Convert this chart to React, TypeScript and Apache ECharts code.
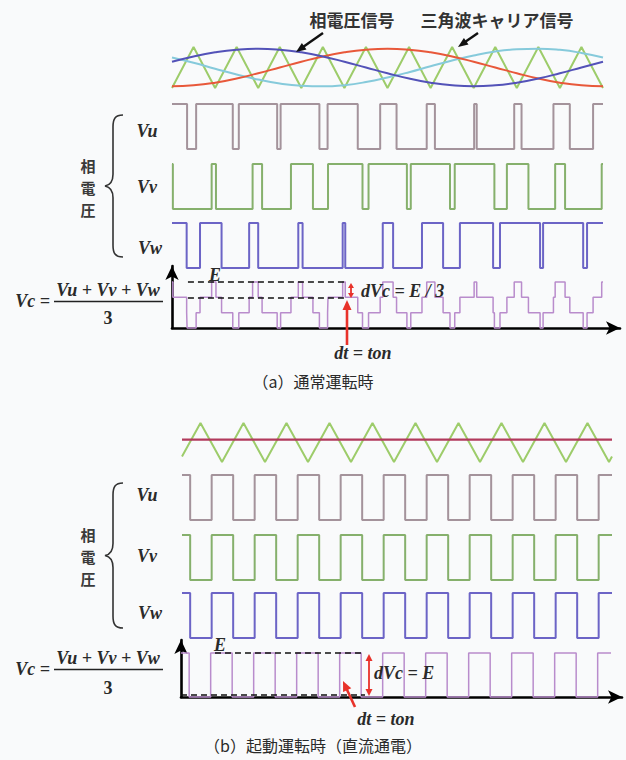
import React, { useEffect, useRef } from "react";
import * as echarts from "echarts";

// ---------- data (time in carrier periods, 0..10) ----------
const sineTimes = [0, 0.5, 1, 1.5, 2, 2.5, 3, 3.5, 4, 4.5, 5, 5.5, 6, 6.5, 7, 7.5, 8, 8.5, 9, 9.5, 10];
const sineBlue = [0.28, 0.54, 0.74, 0.87, 0.92, 0.87, 0.74, 0.54, 0.28, 0, -0.28, -0.54, -0.74, -0.87, -0.92, -0.87, -0.74, -0.54, -0.28, 0, 0.28];
const sineRed = [-0.92, -0.87, -0.74, -0.54, -0.28, 0, 0.28, 0.54, 0.74, 0.87, 0.92, 0.87, 0.74, 0.54, 0.28, 0, -0.28, -0.54, -0.74, -0.87, -0.92];
const sineCyan = [0.49, 0.23, -0.06, -0.34, -0.59, -0.78, -0.89, -0.92, -0.86, -0.71, -0.49, -0.23, 0.06, 0.34, 0.59, 0.78, 0.89, 0.92, 0.86, 0.71, 0.49];
const carrierTimesA = [0, 0.5, 1, 1.5, 2, 2.5, 3, 3.5, 4, 4.5, 5, 5.5, 6, 6.5, 7, 7.5, 8, 8.5, 9, 9.5, 10];
const carrierValsA = [-1, 1, -1, 1, -1, 1, -1, 1, -1, 1, -1, 1, -1, 1, -1, 1, -1, 1, -1, 1, -1];

// switching instants of the phase voltages (a), each starts "high"
const vuSwitchA = [0.35, 0.56, 1.41, 1.55, 2.44, 2.52, 3.42, 3.61, 4.31, 4.83, 5.21, 5.91, 6.1, 7.01, 7.07, 7.94, 8.11, 8.85, 9.23, 9.77];
const vvSwitchA = [0.02, 0.92, 1.02, 1.87, 2.09, 2.76, 3.27, 3.62, 4.42, 4.56, 5.45, 5.54, 6.45, 6.56, 7.48, 7.77, 8.27, 8.89, 9.12, 9.97];
const vwSwitchA = [0.34, 0.65, 1.15, 1.79, 2.0, 2.93, 3.03, 3.96, 4.02, 4.89, 5.13, 5.8, 6.29, 6.68, 7.45, 7.61, 8.54, 8.61, 9.54, 9.63];

// (b) DC energising
const carrierTimesB = [0, 0.43, 0.93, 1.43, 1.93, 2.43, 2.93, 3.43, 3.93, 4.43, 4.93, 5.43, 5.93, 6.43, 6.93, 7.43, 7.93, 8.43, 8.93, 9.43, 9.93, 10];
const carrierValsB = [-0.72, 1, -1, 1, -1, 1, -1, 1, -1, 1, -1, 1, -1, 1, -1, 1, -1, 1, -1, 1, -1, -0.72];
const dcLevelB = 0.15;
const vuSwitchB = [0.19, 0.69, 1.19, 1.69, 2.19, 2.69, 3.19, 3.69, 4.19, 4.69, 5.19, 5.69, 6.19, 6.69, 7.19, 7.69, 8.19, 8.69, 9.19, 9.69];
const vvSwitchB = [0.19, 0.69, 1.19, 1.69, 2.19, 2.69, 3.19, 3.69, 4.19, 4.69, 5.19, 5.69, 6.19, 6.69, 7.19, 7.69, 8.19, 8.69, 9.19, 9.69];
const vwSwitchB = [0.19, 0.69, 1.19, 1.69, 2.19, 2.69, 3.19, 3.69, 4.19, 4.69, 5.19, 5.69, 6.19, 6.69, 7.19, 7.69, 8.19, 8.69, 9.19, 9.69];

// ---------- helpers ----------
const zip = (xs: number[], ys: number[]) => xs.map((x, i) => [x, ys[i]]);
function pulse(start: number, sw: number[], end = 10) {
  const pts: number[][] = [[0, start]];
  let v = start;
  for (const t of sw) {
    pts.push([t, v]);
    v = 1 - v;
    pts.push([t, v]);
  }
  pts.push([end, v]);
  return pts;
}
function levelAt(start: number, sw: number[], t: number) {
  let v = start;
  for (const s of sw) if (s <= t) v = 1 - v;
  return v;
}
function average(phases: [number, number[]][], end = 10) {
  const times = Array.from(new Set(phases.flatMap((p) => p[1]))).sort((a, b) => a - b);
  const bounds = [0, ...times, end];
  const pts: number[][] = [];
  for (let i = 0; i < bounds.length - 1; i++) {
    const mid = (bounds[i] + bounds[i + 1]) / 2;
    const v = phases.reduce((s, p) => s + levelAt(p[0], p[1], mid), 0) / phases.length;
    pts.push([bounds[i], v], [bounds[i + 1], v]);
  }
  return pts;
}

const BRACE_D = "M18 0 C10 0 8 4 8 12 L8 60 C8 68 5 71 0 72 C5 73 8 76 8 84 L8 132 C8 140 10 144 18 144";
echarts.graphic.registerShape("brace", echarts.graphic.extendPath(BRACE_D, {}));

const JP = '"Noto Sans CJK JP", "Noto Sans", sans-serif';
const SERIF = '"Liberation Serif", "DejaVu Serif", serif';

function txt(text: string, x: number, y: number, font: string, align = "center", fill = "#2a2a2a", extra: any = {}) {
  return {
    type: "text",
    silent: true,
    z: 100,
    style: { text, x, y, font, fill, align, verticalAlign: "middle", textAlign: align, textVerticalAlign: "middle", ...extra },
  };
}
function arrow(x1: number, y1: number, x2: number, y2: number, color: string, w: number, hl: number, hw: number, both = false) {
  const els: any[] = [];
  const ang = Math.atan2(y2 - y1, x2 - x1);
  const head = (px: number, py: number, a: number) => {
    const bx = px - hl * Math.cos(a), by = py - hl * Math.sin(a);
    const nx = -Math.sin(a) * hw / 2, ny = Math.cos(a) * hw / 2;
    return { type: "polygon", silent: true, z: 100, shape: { points: [[px, py], [bx + nx, by + ny], [bx - nx, by - ny]] }, style: { fill: color } };
  };
  const sx = both ? x1 + (hl - 1) * Math.cos(ang) : x1;
  const sy = both ? y1 + (hl - 1) * Math.sin(ang) : y1;
  const ex = x2 - (hl - 1) * Math.cos(ang), ey = y2 - (hl - 1) * Math.sin(ang);
  els.push({ type: "line", silent: true, z: 100, shape: { x1: sx, y1: sy, x2: ex, y2: ey }, style: { stroke: color, lineWidth: w } });
  els.push(head(x2, y2, ang));
  if (both) els.push(head(x1, y1, ang + Math.PI));
  return els;
}

export default function App() {
  const ref = useRef<HTMLDivElement>(null);
  useEffect(() => {
    if (!ref.current) return;
    const chart = echarts.init(ref.current, null, { renderer: "svg" });

    const grids = [
      { left: 172, top: 47, width: 431, height: 41 },
      { left: 172, top: 104, width: 431, height: 45 },
      { left: 172, top: 164, width: 431, height: 45 },
      { left: 172, top: 223, width: 431, height: 45 },
      { left: 172, top: 266, width: 448, height: 62 },
      { left: 182, top: 423, width: 430, height: 39 },
      { left: 182, top: 475, width: 430, height: 45 },
      { left: 182, top: 535, width: 430, height: 45 },
      { left: 182, top: 593, width: 430, height: 45 },
      { left: 181, top: 640, width: 441, height: 57 },
    ];
    const xMax = [10, 10, 10, 10, 448 / 43.1, 10, 10, 10, 10, 441 / 43.0];
    const yRange: [number, number][] = [
      [-1, 1], [0, 1], [0, 1], [0, 1], [0, 62 / 46],
      [-1, 1], [0, 1], [0, 1], [0, 1], [0, 57 / 44],
    ];
    const isAxis = (i: number) => i === 4 || i === 9;
    const axisLine = (sym: string[]) => ({
      show: true,
      onZero: false,
      symbol: sym,
      symbolSize: [10, 14],
      lineStyle: { color: "#000", width: 2.6 },
    });

    const xAxis = grids.map((_, i) => ({
      gridIndex: i, type: "value", min: 0, max: xMax[i], show: isAxis(i),
      axisLine: axisLine(["none", "arrow"]), axisTick: { show: false }, axisLabel: { show: false }, splitLine: { show: false },
    }));
    const yAxis = grids.map((_, i) => ({
      gridIndex: i, type: "value", min: yRange[i][0], max: yRange[i][1], show: isAxis(i),
      axisLine: axisLine(["none", "arrow"]), axisTick: { show: false }, axisLabel: { show: false }, splitLine: { show: false },
    }));

    const line = (name: string, g: number, data: number[][], color: string, width: number, extra: any = {}) => ({
      type: "line", name, xAxisIndex: g, yAxisIndex: g, data, showSymbol: false, symbol: "none",
      clip: false, silent: true, lineStyle: { color, width }, ...extra,
    });
    const dashed = { type: [6, 4], color: "#111", width: 1.6 };

    const series = [
      line("carrierA", 0, zip(carrierTimesA, carrierValsA), "#9dcc6a", 2),
      line("cyan", 0, zip(sineTimes, sineCyan), "#86cadb", 2, { smooth: 0.5 }),
      line("red", 0, zip(sineTimes, sineRed), "#e8583a", 2, { smooth: 0.5 }),
      line("blue", 0, zip(sineTimes, sineBlue), "#5352b8", 2, { smooth: 0.5 }),
      line("VuA", 1, pulse(1, vuSwitchA), "#a4939b", 2),
      line("VvA", 2, pulse(1, vvSwitchA), "#86b06c", 2),
      line("VwA", 3, pulse(1, vwSwitchA), "#6c64c6", 2),
      line("VcA", 4, average([[1, vuSwitchA], [1, vvSwitchA], [1, vwSwitchA]]), "#b98ccc", 1.5, {
        markLine: {
          silent: true, symbol: ["none", "none"], label: { show: false }, lineStyle: dashed,
          data: [
            [{ coord: [0.37, 1] }, { coord: [4.0, 1] }],
            [{ coord: [0.37, 2 / 3] }, { coord: [4.0, 2 / 3] }],
          ],
        },
      }),
      line("carrierB", 5, zip(carrierTimesB, carrierValsB), "#9dcc6a", 2),
      line("dcB", 5, [[0, dcLevelB], [10, dcLevelB]], "#b23a5c", 2.2),
      line("VuB", 6, pulse(1, vuSwitchB), "#a4939b", 2),
      line("VvB", 7, pulse(1, vvSwitchB), "#86b06c", 2),
      line("VwB", 8, pulse(1, vwSwitchB), "#6c64c6", 2),
      line("VcB", 9, average([[1, vuSwitchB], [1, vvSwitchB], [1, vwSwitchB]]), "#b98ccc", 1.5, {
        markLine: {
          silent: true, symbol: ["none", "none"], label: { show: false }, lineStyle: dashed,
          data: [
            [{ coord: [0.79, 1] }, { coord: [4.28, 1] }],
            [{ coord: [0, 0.04] }, { coord: [4.28, 0.04] }],
          ],
        },
      }),
    ];

    const fJP = `bold 17px ${JP}`;
    const fSide = `bold 15px ${JP}`;
    const fV = `italic bold 18px ${SERIF}`;
    const fM = `italic bold 18px ${SERIF}`;
    const side = (cy: number) => [
      txt("相", 88, cy - 22, fSide, "center", "#3a3a3a"),
      txt("電", 88, cy, fSide, "center", "#3a3a3a"),
      txt("圧", 88, cy + 22, fSide, "center", "#3a3a3a"),
    ];
    const graphic: any[] = [
      txt("相電圧信号", 352, 19, fJP, "center", "#333"),
      txt("三角波キャリア信号", 497, 19, fJP, "center", "#333"),
      ...arrow(323, 33, 296, 52, "#111", 2.4, 10, 8),
      ...arrow(478, 33, 458, 47, "#111", 2.4, 10, 8),
      // phase labels (a)
      txt("Vu", 147, 131, fV), txt("Vv", 147, 187, fV), txt("Vw", 150, 248, fV),
      ...side(187),
      { type: "brace", x: 105, y: 115, scaleX: 1, scaleY: 142 / 144, silent: true, style: { fill: "none", stroke: "#333", lineWidth: 1.6 } },
      // formula (a)
      txt("Vc =", 50, 301, fV, "right"),
      txt("Vu + Vv + Vw", 108, 290, fV),
      { type: "line", silent: true, shape: { x1: 54, y1: 301.5, x2: 163, y2: 301.5 }, style: { stroke: "#222", lineWidth: 1.4 } },
      txt("3", 108, 318, `bold 18px ${SERIF}`),
      txt("E", 215, 275, fV),
      txt("dVc = E / 3", 361, 291, fM, "left"),
      ...arrow(351, 283, 351, 298, "#e8322a", 1.8, 5, 6, true),
      ...arrow(347, 345, 347, 300, "#e8322a", 2.6, 10, 9),
      txt("dt = ton", 363, 353, fM),
      txt("（a）通常運転時", 313, 381, `16px ${JP}`),
      // (b)
      txt("Vu", 147, 495, fV), txt("Vv", 147, 556, fV), txt("Vw", 150, 613, fV),
      ...side(556),
      { type: "brace", x: 105, y: 483, scaleX: 1, scaleY: 145 / 144, silent: true, style: { fill: "none", stroke: "#333", lineWidth: 1.6 } },
      txt("Vc =", 50, 669, fV, "right"),
      txt("Vu + Vv + Vw", 108, 658, fV),
      { type: "line", silent: true, shape: { x1: 54, y1: 669.5, x2: 163, y2: 669.5 }, style: { stroke: "#222", lineWidth: 1.4 } },
      txt("3", 108, 688, `bold 18px ${SERIF}`),
      txt("E", 220, 645, fV),
      txt("dVc = E", 374, 673, fM, "left"),
      ...arrow(369, 654, 369, 696, "#e8322a", 1.8, 7, 7, true),
      ...arrow(355, 707, 343, 681, "#e8322a", 2.6, 10, 9),
      txt("dt = ton", 386, 719, fM),
      txt("（b）起動運転時（直流通電）", 313, 745, `16px ${JP}`),
    ];

    chart.setOption({
      animation: false,
      backgroundColor: "#f9fafb",
      grid: grids.map((g) => ({ ...g, containLabel: false })),
      xAxis,
      yAxis,
      series,
      graphic: { elements: graphic },
    });
    return () => chart.dispose();
  }, []);
  return <div ref={ref} style={{ position: "absolute", left: 0, top: 0, width: 626, height: 760 }} />;
}
